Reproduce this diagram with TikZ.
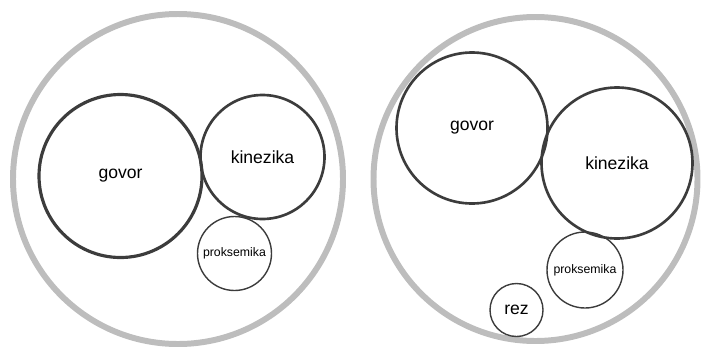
\documentclass[tikz,border=0pt]{standalone}
\usepackage{fontspec}
\setmainfont{Liberation Sans}
\usepackage{tikz}
\usetikzlibrary{shapes,positioning}

\definecolor{ringgray}{HTML}{BDBDBD}
\definecolor{circdark}{HTML}{3C3C3C}

\begin{document}
\begin{tikzpicture}
  \tikzstyle{outer} = [
    draw = ringgray, circle,
    line width = 3.4pt,
    inner sep  = 0pt
  ]
  \tikzstyle{big}   = [
    draw = circdark, circle,
    line width     = 1.5pt,
    inner sep      = 0pt,
    text centered,
    font           = \fontsize{10}{12}\selectfont
  ]
  \tikzstyle{small} = [
    draw = circdark, circle,
    line width     = 0.8pt,
    inner sep      = 0pt,
    text centered
  ]

  \useasboundingbox (0,0) rectangle (14.06,-6.98);

  \node [outer, minimum size = 6.6cm]  at (3.56, -3.58)  (ringL) {};
  \node [outer, minimum size = 6.48cm] at (10.71, -3.58) (ringR) {};

  \node [big, minimum size = 3.26cm, line width = 1.8pt] at (2.41, -3.52) (govorL) {govor};
  \node [big, minimum size = 2.48cm]   at (5.25, -3.14)  (kinezikaL)   {kinezika};
  \node [small, minimum size = 1.48cm, font = \fontsize{7}{8}\selectfont]
                                       at (4.69, -5.07)  (proksemikaL) {proksemika};

  \node [big, minimum size = 3.02cm]   at (9.44, -2.56)  (govorR)      {govor};
  \node [big, minimum size = 3.02cm]   at (12.34, -3.26) (kinezikaR)   {kinezika};
  \node [small, minimum size = 1.52cm, font = \fontsize{7}{8}\selectfont]
                                       at (11.7, -5.4)   (proksemikaR) {proksemika};
  \node [small, minimum size = 1.06cm, font = \fontsize{10}{12}\selectfont]
                                       at (10.33, -6.2)  (rez)         {rez};
\end{tikzpicture}
\end{document}
